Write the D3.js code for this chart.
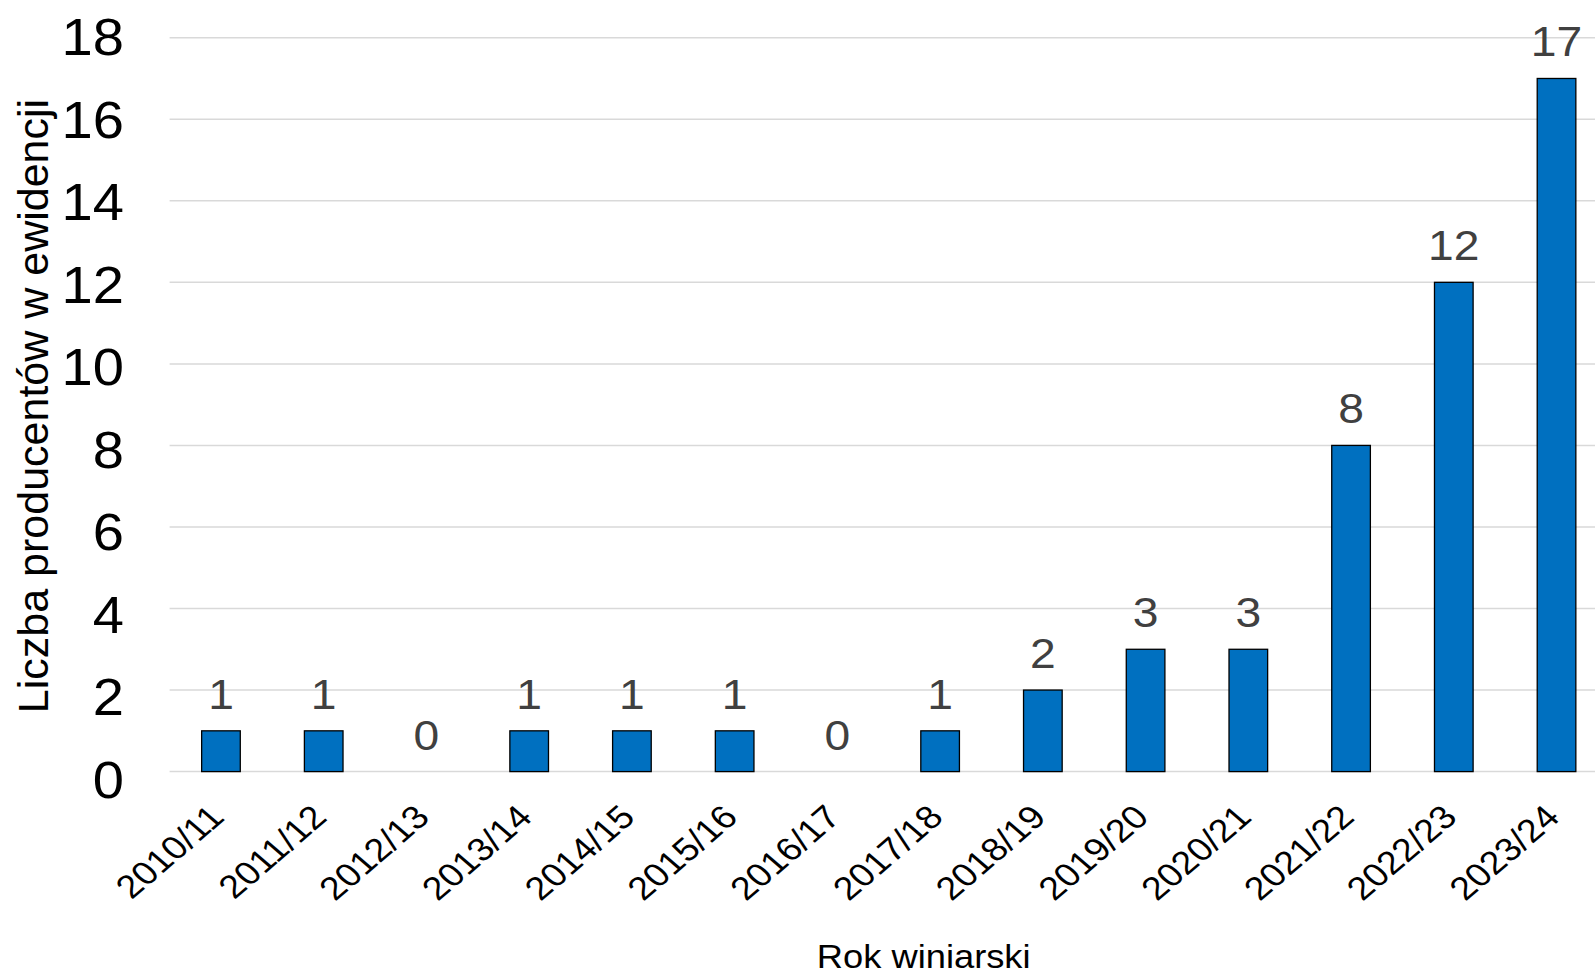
<!DOCTYPE html>
<html>
<head>
<meta charset="utf-8">
<script src="https://cdn.jsdelivr.net/npm/d3@7/dist/d3.min.js"></script>
<style>
  html, body { margin: 0; padding: 0; background: #fff; overflow: hidden; }
  text { font-family: "Liberation Sans", Arial, sans-serif; }
</style>
</head>
<body>
<svg id="chart" width="1595" height="975"></svg>
<script>
// Wine years and number of registered producers
const seasons = ["2010/11", "2011/12", "2012/13", "2013/14", "2014/15", "2015/16", "2016/17",
                 "2017/18", "2018/19", "2019/20", "2020/21", "2021/22", "2022/23", "2023/24"];
const producers = [1, 1, 0, 1, 1, 1, 0, 1, 2, 3, 3, 8, 12, 17];
const yTicks = [0, 2, 4, 6, 8, 10, 12, 14, 16, 18];

const yTitle = "Liczba producentów w ewidencji";
const xTitle = "Rok winiarski";

const svg = d3.select("#chart");
const stretch = 1.1; // horizontal text widening

const x = d3.scaleBand()
  .domain(seasons)
  .range([169.6, 1607.9])
  .paddingInner(0.624)
  .paddingOuter(0.312);

const y = d3.scaleLinear().domain([0, 18]).range([771.6, 37.7]);
// tick labels sit on a slightly taller span than the gridlines
const yLab = d3.scaleLinear().domain([0, 18]).range([779.5, 36.7]);

// horizontal gridlines
svg.append("g")
  .selectAll("line")
  .data(yTicks)
  .join("line")
  .attr("x1", x.range()[0])
  .attr("x2", x.range()[1])
  .attr("y1", d => y(d))
  .attr("y2", d => y(d))
  .attr("stroke", "#d9d9d9")
  .attr("stroke-width", 1.5);

// y tick labels
svg.append("g")
  .selectAll("text")
  .data(yTicks)
  .join("text")
  .attr("transform", d => `translate(124,${yLab(d)}) scale(${stretch},1)`)
  .attr("text-anchor", "end")
  .attr("dy", "0.36em")
  .attr("font-size", 51)
  .attr("fill", "#000")
  .text(d => d);

// bars
svg.append("g")
  .selectAll("rect")
  .data(producers.map((v, i) => ({ season: seasons[i], value: v })).filter(d => d.value > 0))
  .join("rect")
  .attr("x", d => x(d.season))
  .attr("width", x.bandwidth())
  .attr("y", d => y(d.value))
  .attr("height", d => y(0) - y(d.value))
  .attr("fill", "#0070C0")
  .attr("stroke", "#000")
  .attr("stroke-width", 1.3);

// value labels
svg.append("g")
  .selectAll("text")
  .data(producers.map((v, i) => ({ season: seasons[i], value: v })))
  .join("text")
  .attr("transform", d => `translate(${x(d.season) + x.bandwidth() / 2},${y(d.value) - 22}) scale(${stretch},1)`)
  .attr("text-anchor", "middle")
  .attr("font-size", 42)
  .attr("fill", "#404040")
  .text(d => d.value);

// x tick labels, rotated
svg.append("g")
  .selectAll("text")
  .data(seasons)
  .join("text")
  .attr("transform", d => `translate(${x(d) + x.bandwidth() / 2 + 5},819) scale(1.16,1) rotate(-45)`)
  .attr("text-anchor", "end")
  .attr("font-size", 32.5)
  .attr("fill", "#000")
  .text(d => d);

// axis titles
svg.append("text")
  .attr("transform", `translate(923.7,968) scale(${stretch},1)`)
  .attr("text-anchor", "middle")
  .attr("font-size", 33)
  .attr("fill", "#000")
  .text(xTitle);

svg.append("text")
  .attr("transform", "translate(48,406) rotate(-90)")
  .attr("text-anchor", "middle")
  .attr("font-size", 43)
  .attr("fill", "#000")
  .text(yTitle);
</script>
</body>
</html>
